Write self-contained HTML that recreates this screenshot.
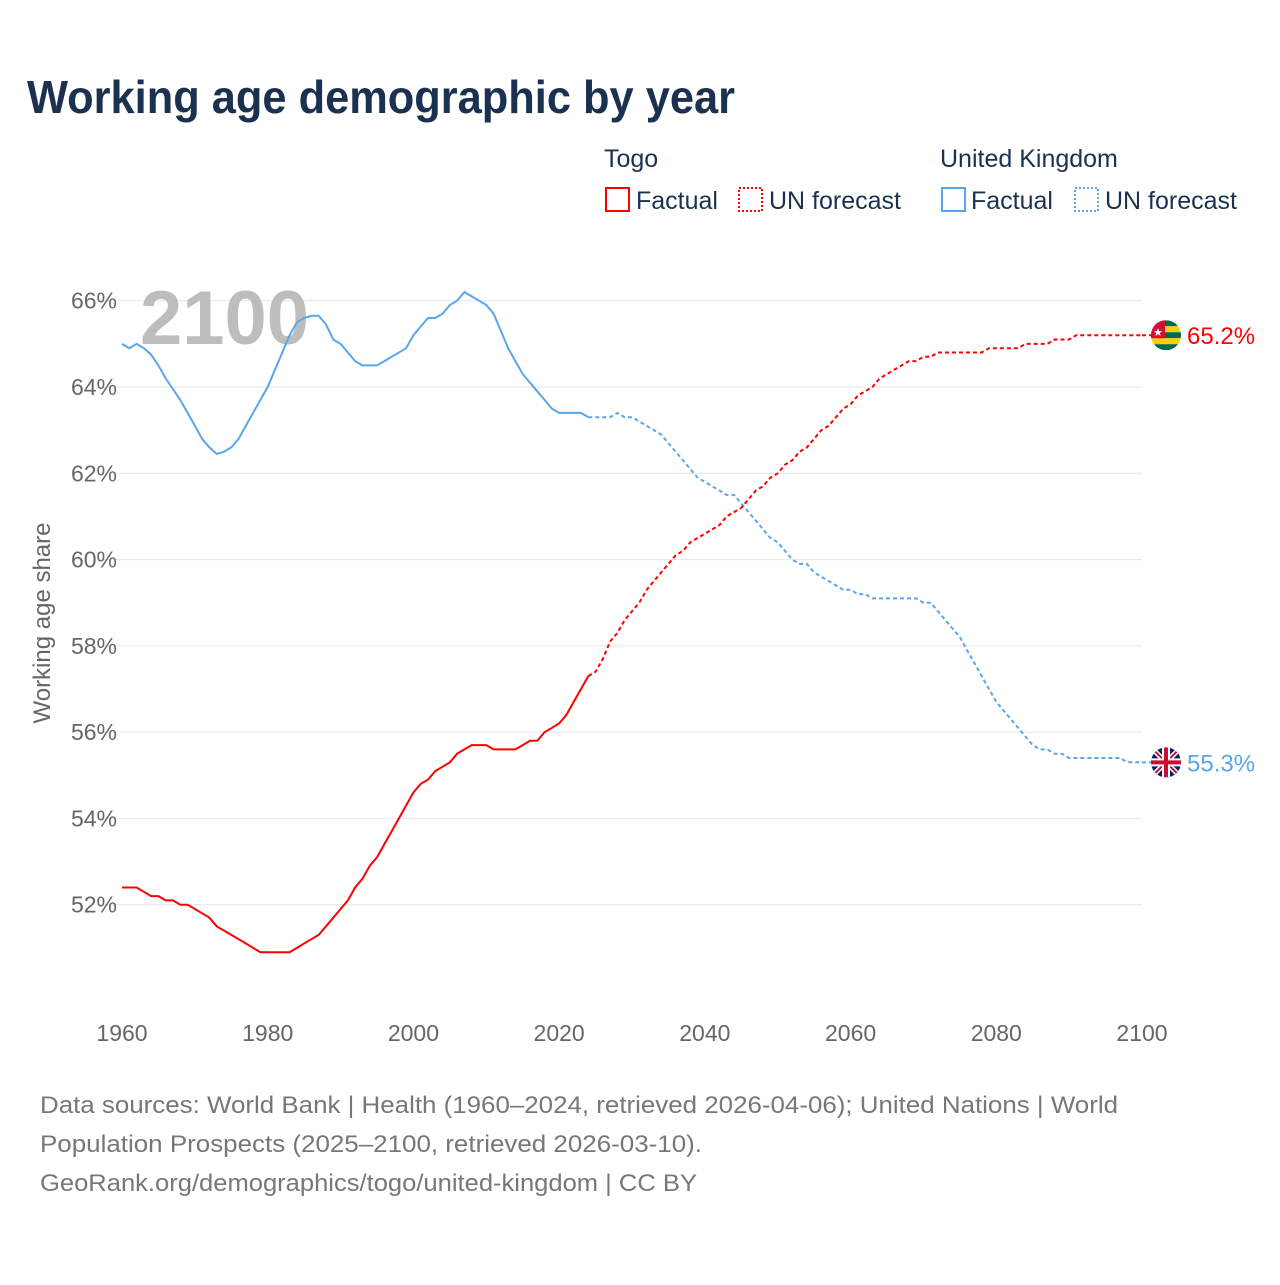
<!DOCTYPE html>
<html><head><meta charset="utf-8"><style>
body{margin:0;background:#fff;font-family:"Liberation Sans",sans-serif}
svg text{font-family:"Liberation Sans",sans-serif}
</style></head><body>
<svg width="1280" height="1280" xmlns="http://www.w3.org/2000/svg">
<text x="27" y="113" font-size="46" font-weight="bold" fill="#1b3150" textLength="708" lengthAdjust="spacingAndGlyphs">Working age demographic by year</text>
<g font-size="25" fill="#1b3150">
<text x="604" y="167">Togo</text>
<text x="940" y="167">United Kingdom</text>
<rect x="606" y="188" width="23" height="23" fill="none" stroke="#f00" stroke-width="2"/>
<text x="636" y="209">Factual</text>
<rect x="739" y="188" width="23" height="23" fill="none" stroke="#f00" stroke-width="2" stroke-dasharray="2,2"/>
<text x="769" y="209">UN forecast</text>
<rect x="942" y="188" width="23" height="23" fill="none" stroke="#5aa6ea" stroke-width="2"/>
<text x="971" y="209">Factual</text>
<rect x="1075" y="188" width="23" height="23" fill="none" stroke="#5aa6ea" stroke-width="2" stroke-dasharray="2,2"/>
<text x="1105" y="209">UN forecast</text>
</g>
<g id="grid"></g>
<text x="140" y="344" font-size="76" font-weight="bold" fill="#bdbdbd">2100</text>
<text transform="translate(50,623) rotate(-90)" text-anchor="middle" font-size="24" fill="#666">Working age share</text>
<g id="series"></g>
<g font-size="24" fill="#777">
<text x="40" y="1113" textLength="1078" lengthAdjust="spacingAndGlyphs">Data sources: World Bank | Health (1960–2024, retrieved 2026-04-06); United Nations | World</text>
<text x="40" y="1152" textLength="662" lengthAdjust="spacingAndGlyphs">Population Prospects (2025–2100, retrieved 2026-03-10).</text>
<text x="40" y="1191" textLength="657" lengthAdjust="spacingAndGlyphs">GeoRank.org/demographics/togo/united-kingdom | CC BY</text>
</g>
</svg>
<script>
const yTicks=[52,54,56,58,60,62,64,66];
const xTicks=[1960,1980,2000,2020,2040,2060,2080,2100];
const startYear=1960;
const factualEnd=2024;
const ukValues=[65.0,64.9,65.0,64.9,64.75,64.5,64.2,63.95,63.7,63.4,63.1,62.8,62.6,62.45,62.5,62.6,62.8,63.1,63.4,63.7,64.0,64.4,64.8,65.2,65.5,65.6,65.65,65.65,65.45,65.1,65.0,64.8,64.6,64.5,64.5,64.5,64.6,64.7,64.8,64.9,65.2,65.4,65.6,65.6,65.7,65.9,66.0,66.2,66.1,66.0,65.9,65.7,65.3,64.9,64.6,64.3,64.1,63.9,63.7,63.5,63.4,63.4,63.4,63.4,63.3,
63.3,63.3,63.3,63.4,63.3,63.3,63.2,63.1,63.0,62.9,62.7,62.5,62.3,62.1,61.9,61.8,61.7,61.6,61.5,61.5,61.3,61.1,60.9,60.7,60.5,60.4,60.2,60.0,59.9,59.9,59.7,59.6,59.5,59.4,59.3,59.3,59.2,59.2,59.1,59.1,59.1,59.1,59.1,59.1,59.1,59.0,59.0,58.8,58.6,58.4,58.2,57.9,57.6,57.3,57.0,56.7,56.5,56.3,56.1,55.9,55.7,55.6,55.6,55.5,55.5,55.4,55.4,55.4,55.4,55.4,55.4,55.4,55.4,55.3,55.3,55.3];
const togoValues=[52.4,52.4,52.4,52.3,52.2,52.2,52.1,52.1,52.0,52.0,51.9,51.8,51.7,51.5,51.4,51.3,51.2,51.1,51.0,50.9,50.9,50.9,50.9,50.9,51.0,51.1,51.2,51.3,51.5,51.7,51.9,52.1,52.4,52.6,52.9,53.1,53.4,53.7,54.0,54.3,54.6,54.8,54.9,55.1,55.2,55.3,55.5,55.6,55.7,55.7,55.7,55.6,55.6,55.6,55.6,55.7,55.8,55.8,56.0,56.1,56.2,56.4,56.7,57.0,57.3,
57.4,57.7,58.1,58.3,58.6,58.8,59.0,59.3,59.5,59.7,59.9,60.1,60.2,60.4,60.5,60.6,60.7,60.8,61.0,61.1,61.2,61.4,61.6,61.7,61.9,62.0,62.2,62.3,62.5,62.6,62.8,63.0,63.1,63.3,63.5,63.6,63.8,63.9,64.0,64.2,64.3,64.4,64.5,64.6,64.6,64.7,64.7,64.8,64.8,64.8,64.8,64.8,64.8,64.8,64.9,64.9,64.9,64.9,64.9,65.0,65.0,65.0,65.0,65.1,65.1,65.1,65.2,65.2,65.2,65.2,65.2,65.2,65.2,65.2,65.2,65.2];
const NS="http://www.w3.org/2000/svg";
const X=yr=>122+(yr-1960)*(1020/140);
const Y=v=>991-(v-50)*(604/14);
function mk(tag,attrs,parent){const e=document.createElementNS(NS,tag);for(const k in attrs)e.setAttribute(k,attrs[k]);parent.appendChild(e);return e;}
const grid=document.getElementById('grid');
yTicks.forEach(t=>{
 const l=mk('line',{x1:100,x2:1142,y1:Y(t),y2:Y(t),stroke:'#e6e6e6','stroke-width':1},grid);
 
 
 const tx=mk('text',{x:117,y:Y(t)+8,'text-anchor':'end','font-size':23,fill:'#666'},grid);
 tx.textContent=t+'%';
 
 
});
xTicks.forEach(t=>{
 const tx=mk('text',{x:X(t),y:1041,'text-anchor':'middle','font-size':23,fill:'#666'},grid);
 tx.textContent=t;
 
 
});
const S=document.getElementById('series');
function pts(vals,a,b){let p=[];for(let i=a;i<=b;i++)p.push(X(startYear+i).toFixed(1)+','+Y(vals[i]).toFixed(1));return p.join(' ');}
const fi=factualEnd-startYear,last=ukValues.length-1;
[[ukValues,'#5aa6ea','uk'],[togoValues,'#f00','togo']].forEach(([v,c,n])=>{
 const a=mk('polyline',{points:pts(v,0,fi),fill:'none',stroke:c,'stroke-width':2},S);
 
 
 const b=mk('polyline',{points:pts(v,fi,last),fill:'none',stroke:c,'stroke-width':2,'stroke-dasharray':'4,3'},S);
 
 
 const ly=Y(v[last]);
 mk('line',{x1:X(2100),x2:1152,y1:ly,y2:ly,stroke:c,'stroke-width':2,'stroke-dasharray':'4,3'},S);
 const t=mk('text',{x:1187,y:ly+9,'font-size':24,fill:c},S);
 t.textContent=v[last].toFixed(1)+'%';
 
 
 const g=mk('g',{},S);
 
 
 mk('clipPath',{id:'c'+n},g);
 mk('circle',{cx:1166,cy:ly,r:15},g.lastChild);
 const f=mk('g',{'clip-path':'url(#c'+n+')'},g);
 if(n==='togo'){
  ['#006a4e','#ffce00','#006a4e','#ffce00','#006a4e'].forEach((col,i)=>mk('rect',{x:1151,y:ly-15+i*6,width:30,height:6,fill:col},f));
  mk('rect',{x:1151,y:ly-15,width:14,height:18,fill:'#d21034'},f);
  const s=mk('text',{x:1158,y:ly+1,'font-size':11,fill:'#fff','text-anchor':'middle'},f);s.textContent='★';
 } else {
  mk('rect',{x:1151,y:ly-15,width:30,height:30,fill:'#012169'},f);
  mk('path',{d:`M1151 ${ly-15}L1181 ${ly+15}M1181 ${ly-15}L1151 ${ly+15}`,stroke:'#fff','stroke-width':5},f);
  mk('path',{d:`M1151 ${ly-15}L1181 ${ly+15}M1181 ${ly-15}L1151 ${ly+15}`,stroke:'#c8102e','stroke-width':2},f);
  mk('path',{d:`M1166 ${ly-15}V${ly+15}M1151 ${ly}H1181`,stroke:'#fff','stroke-width':8},f);
  mk('path',{d:`M1166 ${ly-15}V${ly+15}M1151 ${ly}H1181`,stroke:'#c8102e','stroke-width':4},f);
 }
});
</script>
</body></html>
